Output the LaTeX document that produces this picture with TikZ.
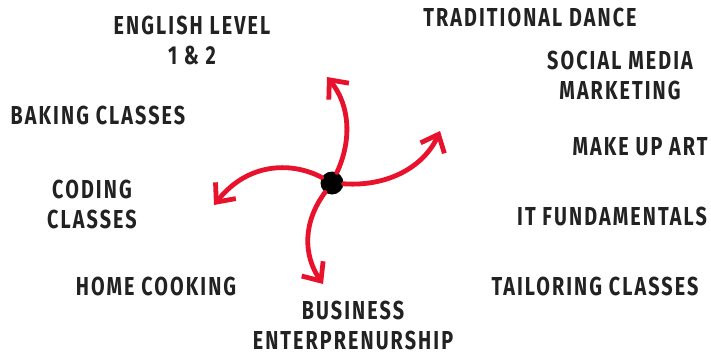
\documentclass[tikz,border=0pt]{standalone}
\usepackage{fontspec}
\setmainfont{Fira Sans}[FakeStretch=0.76,LetterSpace=8]
\usetikzlibrary{arrows.meta}
\definecolor{spinred}{RGB}{232,18,45}
\definecolor{inkgray}{RGB}{34,34,34}
\begin{document}
\begin{tikzpicture}[x=1pt,y=-1pt,
    course/.style={align=center, inner sep=0pt, text=inkgray, font=\fontsize{26}{30}\selectfont\bfseries},
    spin/.style={draw=spinred, line width=4.8pt, line cap=round, -{Straight Barb[length=15pt,width=26pt,line width=4.8pt]}}]
        \useasboundingbox (0,0) rectangle (711,356);

        \node[course] at (192,40)  (english)  {ENGLISH LEVEL\\1 \& 2};
        \node[course] at (530,17)  (dance)    {TRADITIONAL DANCE};
        \node[course] at (620,75)  (social)   {SOCIAL MEDIA\\MARKETING};
        \node[course] at (98,115)  (baking)   {BAKING CLASSES};
        \node[course] at (640,147) (makeup)   {MAKE UP ART};
        \node[course] at (92,204)  (coding)   {CODING\\CLASSES};
        \node[course] at (612,216) (itfund)   {IT FUNDAMENTALS};
        \node[course] at (156,286) (cooking)  {HOME COOKING};
        \node[course] at (595,286) (tailor)   {TAILORING CLASSES};
        \node[course] at (353,325) (business) {BUSINESS\\ENTERPRENURSHIP};

        \node[circle, fill=black, minimum size=23pt, inner sep=0pt] at (332,183) (hub) {};
        \coordinate (tip_up)    at (327,77);
        \coordinate (tip_right) at (440,131);
        \coordinate (tip_left)  at (214,205);
        \coordinate (tip_down)  at (323,284);

        \draw[spin] (hub) .. controls (352,140) and (350,105) .. (tip_up);
        \draw[spin] (hub) .. controls (390,187) and (425,165) .. (tip_right);
        \draw[spin] (hub) .. controls (295,163) and (250,160) .. (tip_left);
        \draw[spin] (hub) .. controls (303,222) and (303,255) .. (tip_down);
    \end{tikzpicture}
\end{document}
